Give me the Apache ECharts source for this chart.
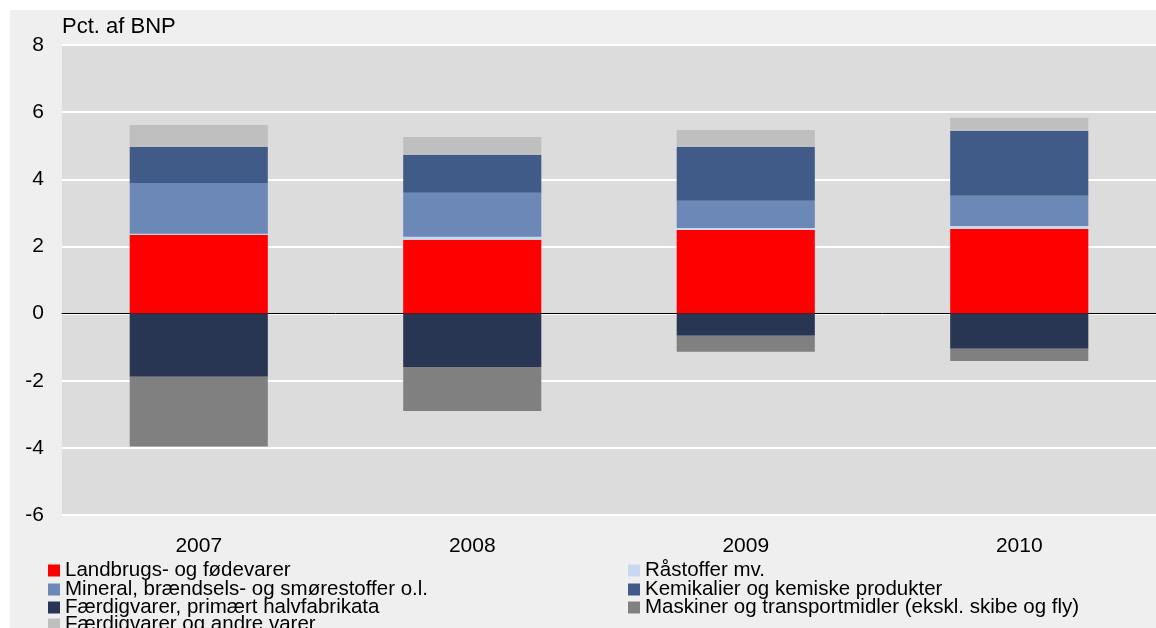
<!DOCTYPE html>
<html>
<head>
<meta charset="utf-8">
<script src="https://cdn.jsdelivr.net/npm/echarts@6/dist/echarts.min.js"></script>
<style>
  html, body { margin: 0; padding: 0; background: #ffffff; }
  #chart { position: absolute; left: 10px; top: 10px; width: 1146px; height: 618px; background: #efefef; }
</style>
</head>
<body>
<div id="chart"></div>
<script>
const categories = ['2007', '2008', '2009', '2010'];
const yTicks = [-6, -4, -2, 0, 2, 4, 6, 8];

const landbrug   = [2.35, 2.20, 2.49, 2.52];
const raastoffer = [0.03, 0.09, 0.06, 0.09];
const mineral    = [1.51, 1.31, 0.81, 0.90];
const kemikalier = [1.07, 1.13, 1.60, 1.93];
const faerdigHalv = [-1.88, -1.59, -0.66, -1.05];
const maskiner   = [-2.08, -1.31, -0.48, -0.36];
const faerdigAndre = [0.66, 0.53, 0.51, 0.39];

const names = {
  landbrug: 'Landbrugs- og fødevarer',
  raastoffer: 'Råstoffer mv.',
  mineral: 'Mineral, brændsels- og smørestoffer o.l.',
  kemikalier: 'Kemikalier og kemiske produkter',
  faerdigHalv: 'Færdigvarer, primært halvfabrikata',
  maskiner: 'Maskiner og transportmidler (ekskl. skibe og fly)',
  faerdigAndre: 'Færdigvarer og andre varer'
};

const colors = {
  landbrug: '#ff0000',
  raastoffer: '#c6d9f0',
  mineral: '#6b88b7',
  kemikalier: '#405b88',
  faerdigHalv: '#283654',
  maskiner: '#808080',
  faerdigAndre: '#bfbfbf'
};

const seriesData = { landbrug, raastoffer, mineral, kemikalier, faerdigHalv, maskiner, faerdigAndre };
const order = ['landbrug', 'raastoffer', 'mineral', 'kemikalier', 'faerdigHalv', 'maskiner', 'faerdigAndre'];

// legend layout: [key, column, row]
const legendLayout = [
  ['landbrug', 0, 0], ['raastoffer', 1, 0],
  ['mineral', 0, 1], ['kemikalier', 1, 1],
  ['faerdigHalv', 0, 2], ['maskiner', 1, 2],
  ['faerdigAndre', 0, 3]
];
const legendColX = [38, 618];
const legendRowTop = [550, 569, 587, 604];

const font = '"Liberation Sans", Arial, sans-serif';

const chart = echarts.init(document.getElementById('chart'));
const legendText = { fontFamily: font, fontSize: 20.5, color: '#000', lineHeight: 18 };

chart.setOption({
  backgroundColor: '#efefef',
  animation: false,
  title: {
    text: 'Pct. af BNP', left: 52, top: 6, padding: 0,
    textStyle: { fontFamily: font, fontSize: 22, fontWeight: 'normal', color: '#000' }
  },
  grid: { left: 52, right: 0, top: 35, bottom: 113, show: true, backgroundColor: '#dcdcdc', borderWidth: 0 },
  legend: legendLayout.map(([k, c, r]) => ({
    orient: 'horizontal', left: legendColX[c], top: legendRowTop[r], padding: 0,
    itemWidth: 12, itemHeight: 12, itemGap: 0, icon: 'rect',
    textStyle: legendText, data: [names[k]]
  })),
  xAxis: {
    type: 'category', data: categories,
    axisLine: { show: true, onZero: true, lineStyle: { color: '#000', width: 1 } },
    axisTick: { show: false },
    axisLabel: { fontFamily: font, fontSize: 21, color: '#000', margin: 21 }
  },
  yAxis: {
    type: 'value', min: yTicks[0], max: yTicks[yTicks.length - 1], interval: 2,
    axisLine: { show: false }, axisTick: { show: false },
    axisLabel: { fontFamily: font, fontSize: 21, color: '#000', margin: 18 },
    splitLine: { show: true, lineStyle: { color: '#ffffff', width: 2 } }
  },
  series: order.map(k => ({
    name: names[k], type: 'bar', stack: 'total',
    barCategoryGap: '49.5%',
    data: seriesData[k],
    itemStyle: { color: colors[k] }
  }))
});
</script>
</body>
</html>
